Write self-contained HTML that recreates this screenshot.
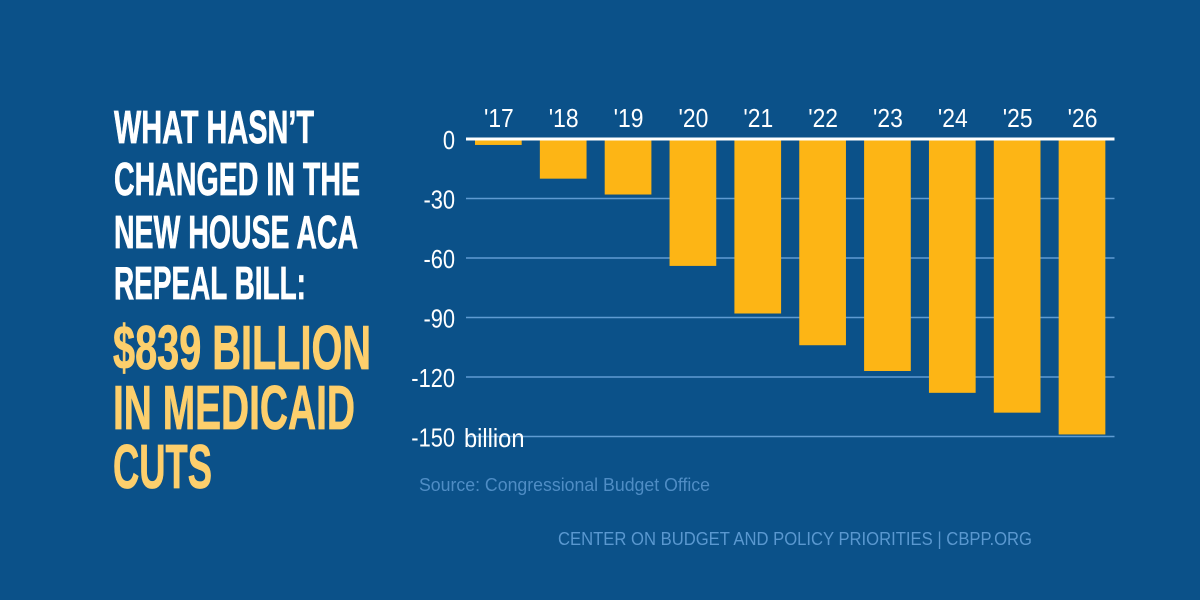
<!DOCTYPE html>
<html lang="en">
<head>
<meta charset="utf-8">
<title>Medicaid cuts chart</title>
<style>
  html, body { margin: 0; padding: 0; background: #0b5189; }
  svg { display: block; font-family: "Liberation Sans", sans-serif; }
  .title { font-weight: 700; font-size: 46px; fill: #ffffff; stroke: #ffffff; stroke-width: 0.7px; }
  .hero { font-weight: 700; font-size: 62px; fill: #fdcf6c; stroke: #fdcf6c; stroke-width: 0.8px; }
  .tick { font-size: 26px; fill: #ffffff; }
  .note { font-size: 18px; fill: #4f8dc5; }
  .foot { font-size: 18px; fill: #5a98d0; }
</style>
</head>
<body>
<svg id="chart" xmlns="http://www.w3.org/2000/svg" width="1200" height="600" viewBox="0 0 1200 600">
  <rect width="1200" height="600" fill="#0b5189"/>
  <g>
    <text class="title" x="114" y="143" textLength="200" lengthAdjust="spacingAndGlyphs">WHAT HASN’T</text>
    <text class="title" x="114" y="195" textLength="246" lengthAdjust="spacingAndGlyphs">CHANGED IN THE</text>
    <text class="title" x="114" y="248" textLength="244" lengthAdjust="spacingAndGlyphs">NEW HOUSE ACA</text>
    <text class="title" x="114" y="299" textLength="192" lengthAdjust="spacingAndGlyphs">REPEAL BILL:</text>
  </g>
  <g>
    <text class="hero" x="113" y="369" textLength="258" lengthAdjust="spacingAndGlyphs">$839 BILLION</text>
    <text class="hero" x="113" y="429" textLength="242" lengthAdjust="spacingAndGlyphs">IN MEDICAID</text>
    <text class="hero" x="113" y="488" textLength="99" lengthAdjust="spacingAndGlyphs">CUTS</text>
  </g>
  <g id="grid"></g>
  <g id="bars"></g>
  <line id="zero" stroke="#ffffff" stroke-width="3"/>
  <g id="xlabels"></g>
  <g id="ylabels"></g>
  <text class="tick" transform="translate(464 447) scale(0.91 1)">billion</text>
  <text class="note" x="419" y="491" textLength="291" lengthAdjust="spacingAndGlyphs">Source: Congressional Budget Office</text>
  <text class="foot" x="558" y="545" textLength="474" lengthAdjust="spacingAndGlyphs">CENTER ON BUDGET AND POLICY PRIORITIES | CBPP.ORG</text>
</svg>
<script>
const categories = ["'17", "'18", "'19", "'20", "'21", "'22", "'23", "'24", "'25", "'26"];
const cuts = [-3, -20, -28, -64, -88, -104, -117, -128, -138, -149];
const yTicks = [0, -30, -60, -90, -120, -150];

const SVG_NS = 'http://www.w3.org/2000/svg';
const plot = { left: 466, right: 1114.5, top: 139, pxPerUnit: 1.983, firstCenter: 498.35, step: 64.85, barWidth: 46.7 };
const xScale = i => plot.firstCenter + i * plot.step;
const yScale = v => plot.top - v * plot.pxPerUnit;

const gridGroup = document.getElementById('grid');
const barGroup = document.getElementById('bars');
const xGroup = document.getElementById('xlabels');
const yGroup = document.getElementById('ylabels');

const zero = document.getElementById('zero');
zero.setAttribute('x1', plot.left);
zero.setAttribute('x2', plot.right);
zero.setAttribute('y1', yScale(0));
zero.setAttribute('y2', yScale(0));

yTicks.forEach(t => {
  if (t !== 0) {
    const line = document.createElementNS(SVG_NS, 'line');
    
    
    line.setAttribute('x1', plot.left);
    line.setAttribute('x2', plot.right);
    line.setAttribute('y1', yScale(t));
    line.setAttribute('y2', yScale(t));
    line.setAttribute('stroke', '#5f9bd2');
    line.setAttribute('stroke-width', '1.5');
    gridGroup.appendChild(line);
  }
  const label = document.createElementNS(SVG_NS, 'text');
  
  
  label.setAttribute('class', 'tick');
  label.setAttribute('text-anchor', 'end');
  label.setAttribute('transform', 'translate(455 ' + (yScale(t) + 10) + ') scale(0.84 1)');
  label.textContent = String(t);
  yGroup.appendChild(label);
});

cuts.forEach((v, i) => {
  const bar = document.createElementNS(SVG_NS, 'rect');
  
  
  bar.setAttribute('x', xScale(i) - plot.barWidth / 2);
  bar.setAttribute('y', yScale(0));
  bar.setAttribute('width', plot.barWidth);
  bar.setAttribute('height', yScale(v) - yScale(0));
  bar.setAttribute('fill', '#fdb515');
  barGroup.appendChild(bar);
});

categories.forEach((c, i) => {
  const label = document.createElementNS(SVG_NS, 'text');
  
  
  label.setAttribute('class', 'tick');
  label.setAttribute('text-anchor', 'middle');
  label.setAttribute('transform', 'translate(' + (xScale(i) + 0.5) + ' 127) scale(0.88 1)');
  label.textContent = c;
  xGroup.appendChild(label);
});
</script>
</body>
</html>
